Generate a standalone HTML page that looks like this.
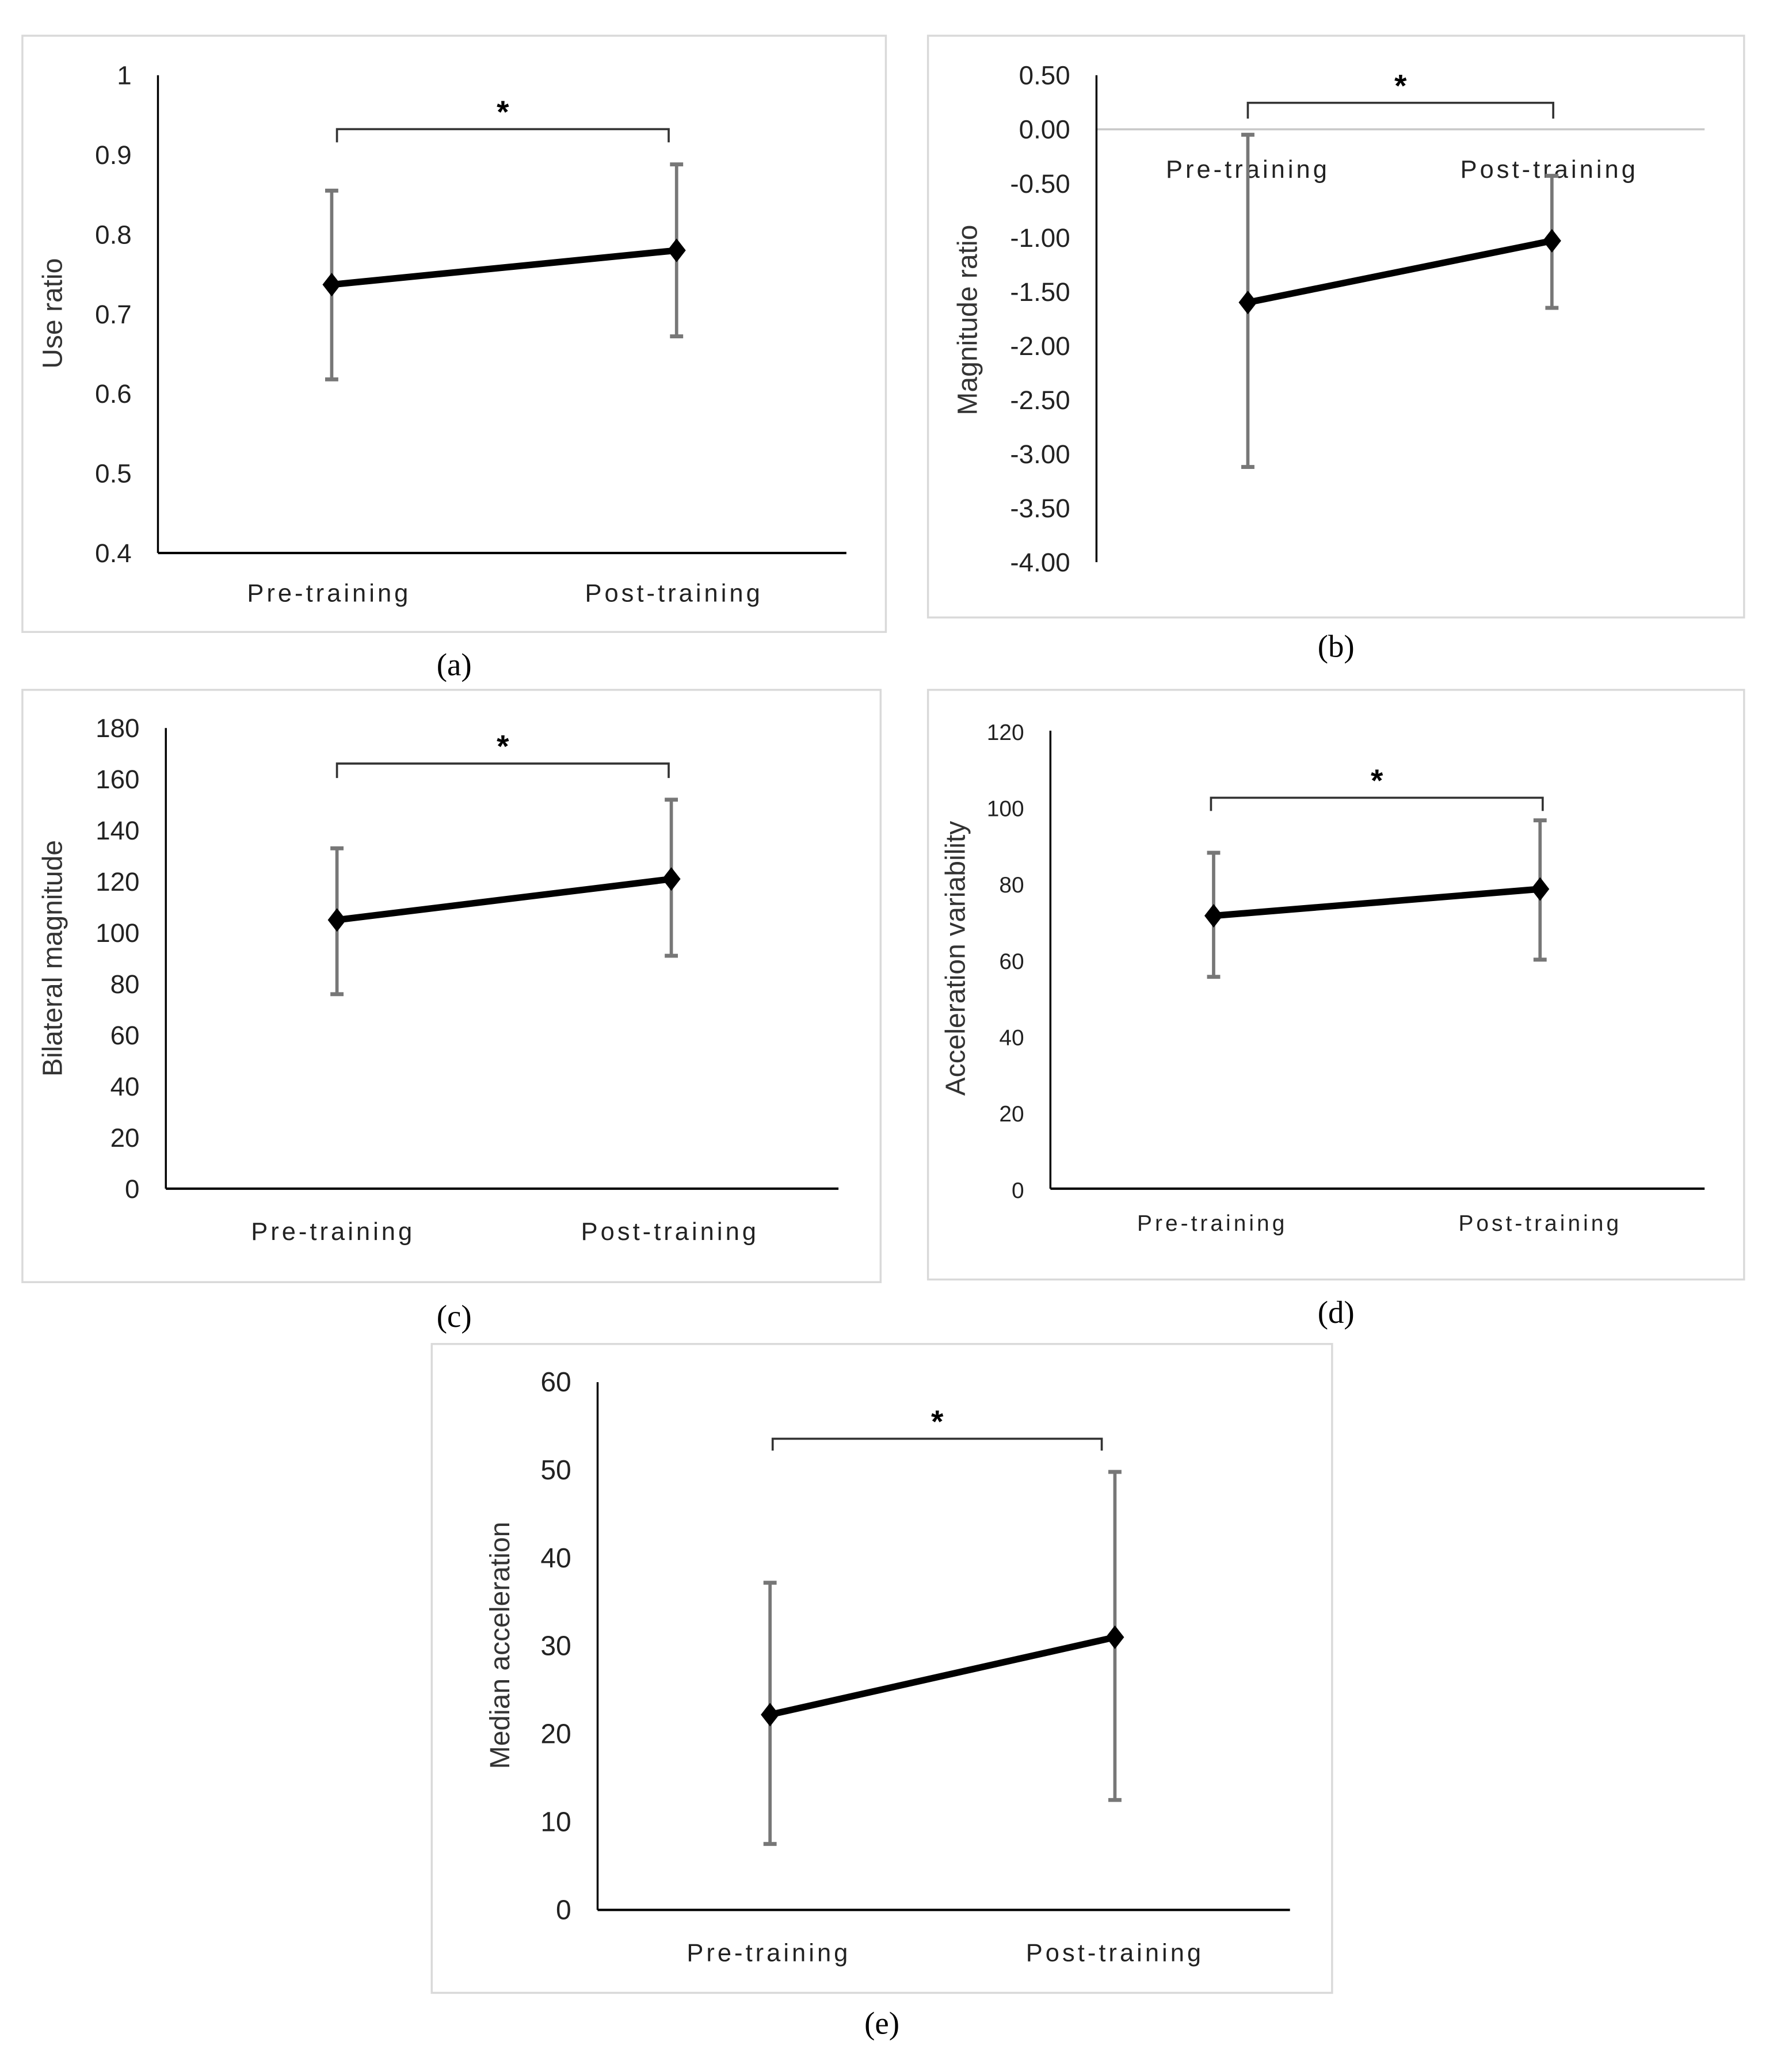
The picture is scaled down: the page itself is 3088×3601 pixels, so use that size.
<!DOCTYPE html>
<html><head><meta charset="utf-8"><style>
html,body{margin:0;padding:0;background:#fff;}
svg{display:block;}
text{font-family:"Liberation Sans",sans-serif;}
</style></head><body>
<svg id="fig" width="3088" height="3601" viewBox="0 0 1350 1574" xmlns="http://www.w3.org/2000/svg"></svg>
<script>
const categories = ["Pre-training", "Post-training"];
const aMeans = [0.737, 0.780];
const aLow = [0.618, 0.672];
const aHigh = [0.855, 0.888];
const aTicks = ["0.4","0.5","0.6","0.7","0.8","0.9","1"];
const bMeans = [-1.60, -1.03];
const bLow = [-3.12, -1.65];
const bHigh = [-0.05, -0.43];
const bTicks = ["-4.00","-3.50","-3.00","-2.50","-2.00","-1.50","-1.00","-0.50","0.00","0.50"];
const cMeans = [105, 121];
const cLow = [76, 91];
const cHigh = [133, 152];
const cTicks = ["0","20","40","60","80","100","120","140","160","180"];
const dMeans = [71.5, 78.5];
const dLow = [55.5, 60];
const dHigh = [88, 96.5];
const dTicks = ["0","20","40","60","80","100","120"];
const eMeans = [22.2, 31.0];
const eLow = [7.5, 12.5];
const eHigh = [37.2, 49.8];
const eTicks = ["0","10","20","30","40","50","60"];

const NS = "http://www.w3.org/2000/svg";
const svg = document.getElementById("fig");
function mk(tag, attrs, parent, txt){
  const e = document.createElementNS(NS, tag);
  for (const k in attrs) e.setAttribute(k, attrs[k]);
  if (txt !== undefined) e.textContent = txt;
  (parent||svg).appendChild(e);
  return e;
}
function panel(cfg){
  const g = mk("g", {});
  
  
  const box = mk("rect", {x:cfg.box[0], y:cfg.box[1], width:cfg.box[2]-cfg.box[0], height:cfg.box[3]-cfg.box[1], fill:"#fff", stroke:"#d9d9d9", "stroke-width":1.5}, g);
  
  
  const tv = cfg.ticks.map(Number);
  const vmin = tv[0], vmax = tv[tv.length-1];
  const y = v => cfg.yBot + (v - vmin) / (vmax - vmin) * (cfg.yTop - cfg.yBot);
  const x = i => cfg.xs[i];
  cfg.ticks.forEach((t)=>{
    const tl = mk("text", {x:cfg.ax-20, y:y(Number(t))+7, "text-anchor":"end", "font-size":cfg.tfs, fill:"#222"}, g, t);
    
    
  });
  if (cfg.zeroLine){
    const zl = mk("line", {x1:cfg.ax, x2:cfg.axEnd, y1:y(0), y2:y(0), stroke:"#c8c8c8", "stroke-width":1.5}, g);
    
    
  }
  const ya = mk("line", {x1:cfg.ax, x2:cfg.ax, y1:cfg.yTop, y2:cfg.yBot, stroke:"#000", "stroke-width":1.5}, g);
  
  
  if (!cfg.zeroLine){
    const xa = mk("line", {x1:cfg.ax, x2:cfg.axEnd, y1:cfg.yBot, y2:cfg.yBot, stroke:"#000", "stroke-width":1.8}, g);
    
    
  }
  categories.forEach((c,i)=>{
    const cl = mk("text", {x:cfg.catX[i], y:cfg.catY, "text-anchor":"middle", "font-size":cfg.cfs, "letter-spacing":2.2, fill:"#222"}, g, c);
    
    
  });
  const yt = mk("text", {x:0, y:0, "text-anchor":"middle", "font-size":21, fill:"#333", transform:`translate(${cfg.titleX},${cfg.titleY}) rotate(-90)`}, g, cfg.title);
  
  
  cfg.means.forEach((m,i)=>{
    const eb = mk("line", {x1:x(i), x2:x(i), y1:y(cfg.low[i]), y2:y(cfg.high[i]), stroke:"#777", "stroke-width":2.5}, g);
    
    
    [cfg.low[i], cfg.high[i]].forEach(v=>{
      const cap = mk("line", {x1:x(i)-5, x2:x(i)+5, y1:y(v), y2:y(v), stroke:"#777", "stroke-width":3}, g);
      
      
    });
  });
  const ln = mk("line", {x1:x(0), y1:y(cfg.means[0]), x2:x(1), y2:y(cfg.means[1]), stroke:"#000", "stroke-width":5}, g);
  
  
  cfg.means.forEach((m,i)=>{
    const px = x(i), py = y(m);
    const mk1 = mk("polygon", {points:`${px},${py-9} ${px+7},${py} ${px},${py+9} ${px-7},${py}`, fill:"#000"}, g);
    
    
  });
  const b = cfg.bracket;
  const br = mk("polyline", {points:`${b[0]},${b[3]} ${b[0]},${b[2]} ${b[1]},${b[2]} ${b[1]},${b[3]}`, fill:"none", stroke:"#333", "stroke-width":1.6}, g);
  
  
  const st = mk("text", {x:(b[0]+b[1])/2, y:b[2]-5, "text-anchor":"middle", "font-size":24, "font-weight":"bold", fill:"#000"}, g, "*");
  
  
  const cap = mk("text", {x:cfg.cap[0], y:cfg.cap[1], "text-anchor":"middle", "font-size":24, fill:"#000", style:'font-family:"Liberation Serif",serif'}, g, cfg.capText);
  
  
}
panel({name:"panel-a", box:[17,27,673,480], ax:120, axEnd:643, yTop:57, yBot:420, ticks:aTicks, xs:[252,514],
  means:aMeans, low:aLow, high:aHigh, catX:[250,512], catY:457, tfs:20, cfs:19, title:"Use ratio", titleX:47, titleY:238,
  bracket:[256,508,98,108], cap:[345,513], capText:"(a)"});
panel({name:"panel-b", box:[705,27,1325,469], ax:833, axEnd:1295, yTop:57, yBot:427, ticks:bTicks, xs:[948,1179], zeroLine:true,
  means:bMeans, low:bLow, high:bHigh, catX:[948,1177], catY:135, tfs:20, cfs:19, title:"Magnitude ratio", titleX:742, titleY:243,
  bracket:[948,1180,78,90], cap:[1015,499], capText:"(b)"});
panel({name:"panel-c", box:[17,524,669,974], ax:126, axEnd:637, yTop:553, yBot:903, ticks:cTicks, xs:[256,510],
  means:cMeans, low:cLow, high:cHigh, catX:[253,509], catY:942, tfs:20, cfs:19, title:"Bilateral magnitude", titleX:47, titleY:728,
  bracket:[256,508,580,591], cap:[345,1008], capText:"(c)"});
panel({name:"panel-d", box:[705,524,1325,972], ax:798, axEnd:1295, yTop:555, yBot:903, ticks:dTicks, xs:[922,1170],
  means:dMeans, low:dLow, high:dHigh, catX:[921,1170], catY:935, tfs:17, cfs:17, title:"Acceleration variability", titleX:733, titleY:728,
  bracket:[920,1172,606,616], cap:[1015,1005], capText:"(d)"});
panel({name:"panel-e", box:[328,1021,1012,1514], ax:454, axEnd:980, yTop:1050, yBot:1451, ticks:eTicks, xs:[585,847],
  means:eMeans, low:eLow, high:eHigh, catX:[584,847], catY:1490, tfs:21, cfs:19, title:"Median acceleration", titleX:387, titleY:1250,
  bracket:[587,837,1093,1102], cap:[670,1545], capText:"(e)"});
</script>
</body></html>
